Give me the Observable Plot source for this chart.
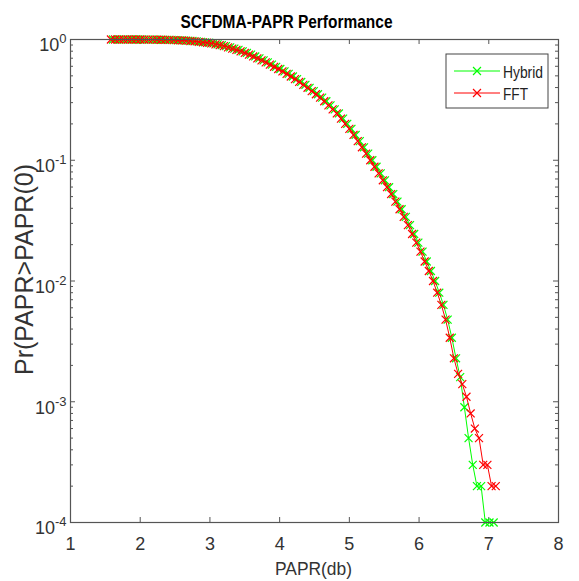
<!DOCTYPE html>
<html><head><meta charset="utf-8">
<script src="https://cdn.jsdelivr.net/npm/d3@7"></script>
<script src="https://cdn.jsdelivr.net/npm/@observablehq/plot@0.6"></script>
<style>
html,body{margin:0;padding:0;background:#fff;}
#chart{width:579px;height:581px;}
</style></head><body><div id="chart"></div>
<script>
const title = "SCFDMA-PAPR Performance";
const xLabel = "PAPR(db)";
const yLabel = "Pr(PAPR>PAPR(0)";
const seriesNames = ["Hybrid", "FFT"];
const seriesColors = ["#00ff00", "#ff0000"];
const xTicks = [1, 2, 3, 4, 5, 6, 7, 8];
const yTicks = [1e-4, 1e-3, 1e-2, 1e-1, 1];

const fftPapr = [
  1.58,1.64,1.70,1.76,1.82,1.88,1.94,2.00,2.06,2.12,
  2.18,2.24,2.30,2.36,2.42,2.48,2.54,2.60,2.66,2.72,
  2.78,2.84,2.90,2.96,3.02,3.08,3.14,3.20,3.26,3.32,
  3.38,3.44,3.50,3.56,3.62,3.68,3.74,3.80,3.86,3.92,
  3.98,4.04,4.10,4.16,4.22,4.28,4.34,4.40,4.46,4.52,
  4.58,4.64,4.70,4.76,4.82,4.88,4.94,5.00,5.06,5.12,
  5.18,5.24,5.30,5.36,5.42,5.48,5.54,5.60,5.66,5.72,
  5.78,5.84,5.90,5.96,6.02,6.08,6.14,6.20,6.26,6.32,
  6.38,6.44,6.50,6.56,6.62,6.68,6.74,6.80,6.86,6.92,
  6.98,7.04,7.10
];
const fftProb = [
  1.0,1.0,1.0,1.0,0.9999,0.9998,0.9997,0.9995,0.9993,0.9986,
  0.998,0.9965,0.9954,0.9942,0.992,0.9886,0.985,0.9817,0.977,0.9716,
  0.966,0.957,0.948,0.940,0.929,0.912,0.897,0.881,0.861,0.841,
  0.820,0.798,0.774,0.750,0.724,0.698,0.671,0.646,0.619,0.594,
  0.570,0.545,0.519,0.494,0.470,0.445,0.421,0.398,0.374,0.352,
  0.330,0.308,0.285,0.264,0.244,0.221,0.200,0.182,0.162,0.144,
  0.128,0.1135,0.100,0.0883,0.0778,0.0682,0.0598,0.0525,0.0454,0.0393,
  0.0340,0.0290,0.0245,0.0208,0.0175,0.0145,0.0121,0.0100,0.0080,0.00634,
  0.00479,0.00339,0.00229,0.0017,0.0014,0.0011,0.0008,0.0006,0.0005,0.0003,
  0.0003,0.0002,0.0002
];
const hybridPapr = [
  1.61,1.67,1.73,1.79,1.85,1.91,1.97,2.03,2.09,2.15,
  2.21,2.27,2.33,2.39,2.45,2.51,2.57,2.63,2.69,2.75,
  2.81,2.87,2.93,2.99,3.05,3.11,3.17,3.23,3.29,3.35,
  3.41,3.47,3.53,3.59,3.65,3.71,3.77,3.83,3.89,3.95,
  4.01,4.07,4.13,4.19,4.25,4.31,4.37,4.43,4.49,4.55,
  4.61,4.67,4.73,4.79,4.85,4.91,4.97,5.03,5.09,5.15,
  5.21,5.27,5.33,5.39,5.45,5.51,5.57,5.63,5.69,5.75,
  5.81,5.87,5.93,5.99,6.05,6.11,6.17,6.23,6.29,6.35,
  6.41,6.47,6.53,6.59,6.65,6.71,6.77,6.83,6.89,6.95,
  7.01,7.07
];
const hybridProb = [
  1.0,1.0,1.0,1.0,0.9999,0.9998,0.9997,0.9995,0.9993,0.9986,
  0.998,0.9965,0.9954,0.9942,0.992,0.9886,0.985,0.9817,0.977,0.9716,
  0.966,0.957,0.948,0.940,0.929,0.912,0.897,0.881,0.861,0.841,
  0.820,0.798,0.774,0.750,0.724,0.698,0.671,0.646,0.619,0.594,
  0.570,0.545,0.519,0.494,0.470,0.445,0.421,0.398,0.374,0.352,
  0.330,0.308,0.285,0.264,0.244,0.221,0.200,0.182,0.162,0.144,
  0.128,0.1135,0.100,0.0883,0.0778,0.0682,0.0598,0.0525,0.0454,0.0393,
  0.0340,0.0290,0.0245,0.0208,0.0175,0.0145,0.0121,0.0100,0.0080,0.00634,
  0.00479,0.00339,0.00229,0.0016,0.0009,0.0005,0.0003,0.0002,0.0002,0.0001,
  0.0001,0.0001
];

const hybrid = hybridPapr.map((x, i) => ({series: "Hybrid", x, y: hybridProb[i]}));
const fft = fftPapr.map((x, i) => ({series: "FFT", x, y: fftProb[i]}));

const W = 579, H = 581, mL = 70, mR = 21, mT = 39, mB = 59;
const pw = W - mL - mR, ph = H - mT - mB;
const font = "'Liberation Sans',Arial,Helvetica,sans-serif";
const axisColor = "#555";
const minor = [];
for (const d of [1e-4, 1e-3, 1e-2, 1e-1]) for (let m = 2; m <= 9; m++) minor.push(d * m);
const R = 3.7;

const chart = Plot.plot({
  width: W, height: H,
  marginLeft: mL, marginRight: mR, marginTop: mT, marginBottom: mB,
  style: {fontFamily: font, fontSize: "18px", color: "#333", background: "#fff", overflow: "visible"},
  x: {domain: [1, 8], axis: null},
  y: {type: "log", domain: [1e-4, 1], axis: null},
  color: {domain: seriesNames, range: seriesColors},
  marks: [
    Plot.tickX(xTicks, {x: d => d, insetTop: ph - 5, stroke: axisColor}),
    Plot.tickX(xTicks, {x: d => d, insetBottom: ph - 5, stroke: axisColor}),
    Plot.tickY(yTicks, {y: d => d, insetRight: pw - 5, stroke: axisColor}),
    Plot.tickY(yTicks, {y: d => d, insetLeft: pw - 5, stroke: axisColor}),
    Plot.tickY(minor, {y: d => d, insetRight: pw - 3, stroke: axisColor}),
    Plot.tickY(minor, {y: d => d, insetLeft: pw - 3, stroke: axisColor}),
    Plot.axisX({ticks: xTicks, tickSize: 0, tickPadding: 15, label: null, tickFormat: d => String(d), fill: "#333"}),
    Plot.axisY({ticks: yTicks, tickSize: 0, tickPadding: 4, label: null, dy: 6, fill: "#333",
      tickFormat: d => "10^" + Math.round(Math.log10(d))}),
    Plot.line(hybrid, {x: "x", y: "y", stroke: "series", strokeWidth: 1}),
    Plot.dot(hybrid, {x: "x", y: "y", symbol: "times", r: R, stroke: "series", strokeWidth: 1.2}),
    Plot.line(fft, {x: "x", y: "y", stroke: "series", strokeWidth: 1}),
    Plot.dot(fft, {x: "x", y: "y", symbol: "times", r: R, stroke: "series", strokeWidth: 1.2}),
    Plot.frame({stroke: axisColor, strokeWidth: 1.2}),
    Plot.text([title], {frameAnchor: "top", lineAnchor: "middle", textAnchor: "middle", dx: -28, dy: -17.5,
      fontWeight: "bold", fontSize: 18.5, fill: "#000"}),
    Plot.text([xLabel], {frameAnchor: "bottom", lineAnchor: "middle", textAnchor: "middle", dx: -1, dy: 47,
      fontSize: 18.5, fill: "#333"}),
    Plot.text([yLabel], {frameAnchor: "left", lineAnchor: "middle", textAnchor: "middle", rotate: -90,
      dx: -46, dy: -11.5, fontSize: 25, fill: "#333"})
  ]
});

// superscript exponents on y tick labels
d3.select(chart).selectAll('g[aria-label="y-axis tick label"] text').each(function () {
  const t = this.textContent;
  const [b, e] = t.split("^");
  const s = d3.select(this);
  s.text(null);
  s.append("tspan").text(b);
  s.append("tspan").attr("dy", -8).attr("font-size", 13).text(e);
});

// horizontally condensed title / x label (as in the reference image)
const condensed = {[title]: 212, [xLabel]: 77};
d3.select(chart).selectAll('g[aria-label="text"] text').each(function () {
  const w = condensed[this.textContent];
  if (w) d3.select(this).attr("textLength", w).attr("lengthAdjust", "spacingAndGlyphs");
});

// legend
const svg = d3.select(chart);
const lg = svg.append("g").attr("font-family", font).attr("font-size", 16.5).attr("text-anchor", "start");
lg.append("rect").attr("x", 446).attr("y", 54).attr("width", 102).attr("height", 54)
  .attr("fill", "#fff").attr("stroke", "#444").attr("stroke-width", 1);
const legendRows = [{name: seriesNames[0], color: seriesColors[0], y: 71, w: 40},
                    {name: seriesNames[1], color: seriesColors[1], y: 93, w: 25}];
for (const r of legendRows) {
  lg.append("line").attr("x1", 454).attr("x2", 500).attr("y1", r.y).attr("y2", r.y)
    .attr("stroke", r.color).attr("stroke-width", 1);
  lg.append("path").attr("d", d3.symbol(d3.symbolTimes, R * R * Math.PI)())
    .attr("transform", `translate(477,${r.y})`).attr("stroke", r.color).attr("stroke-width", 1.2).attr("fill", "none");
  lg.append("text").attr("x", 503).attr("y", r.y + 7).attr("fill", "#222")
    .attr("textLength", r.w).attr("lengthAdjust", "spacingAndGlyphs").text(r.name);
}

document.getElementById("chart").appendChild(chart);
</script></body></html>
